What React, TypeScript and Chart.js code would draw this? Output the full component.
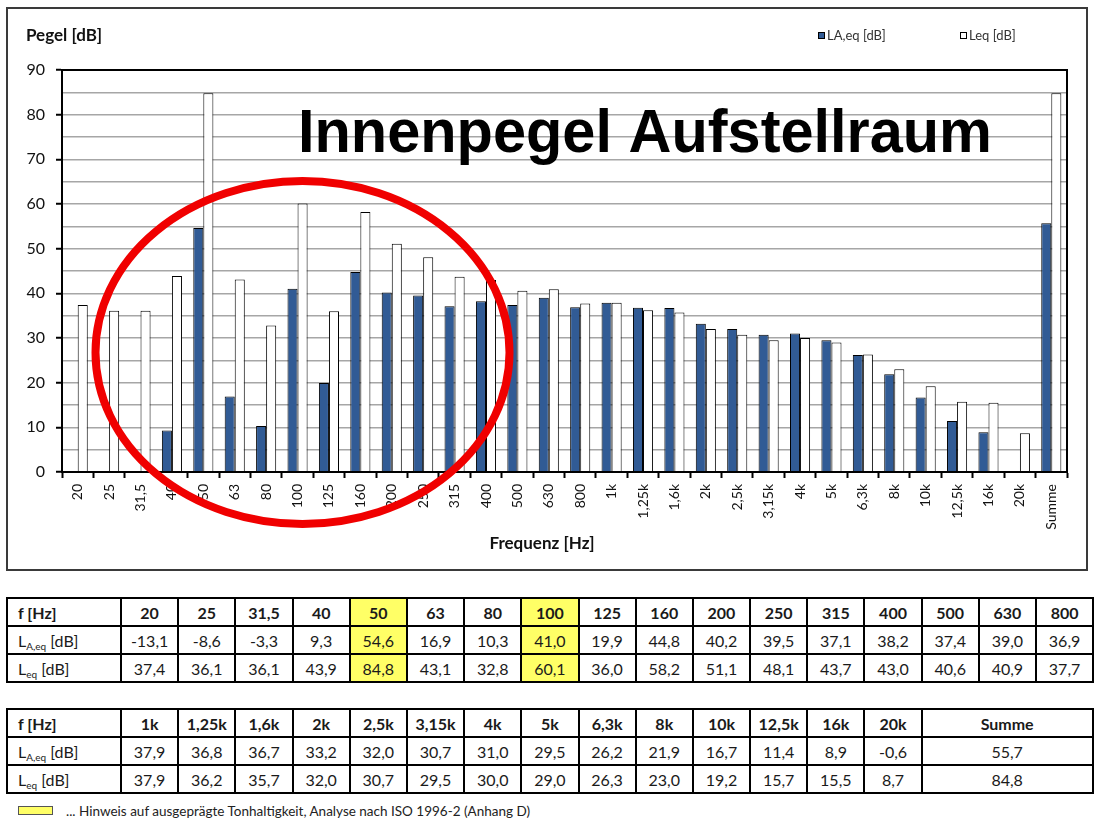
import React, { useEffect, useRef } from "react";
import { Chart, registerables } from "chart.js";
Chart.register(...registerables);

const categories = ["20","25","31,5","40","50","63","80","100","125","160","200","250","315","400","500","630","800","1k","1,25k","1,6k","2k","2,5k","3,15k","4k","5k","6,3k","8k","10k","12,5k","16k","20k","Summe"];
const laeqValues = [-13.1,-8.6,-3.3,9.3,54.6,16.9,10.3,41.0,19.9,44.8,40.2,39.5,37.1,38.2,37.4,39.0,36.9,37.9,36.8,36.7,33.2,32.0,30.7,31.0,29.5,26.2,21.9,16.7,11.4,8.9,-0.6,55.7];
const leqValues = [37.4,36.1,36.1,43.9,84.8,43.1,32.8,60.1,36.0,58.2,51.1,48.1,43.7,43.0,40.6,40.9,37.7,37.9,36.2,35.7,32.0,30.7,29.5,30.0,29.0,26.3,23.0,19.2,15.7,15.5,8.7,84.8];
const tonalBands = ["50", "100"];
const seriesNames = ["LA,eq [dB]", "Leq [dB]"];
const yAxisTitle = "Pegel [dB]";
const xAxisTitle = "Frequenz [Hz]";
const bigTitle = "Innenpegel Aufstellraum";
const footnote = "... Hinweis auf ausgeprägte Tonhaltigkeit, Analyse nach ISO 1996-2 (Anhang D)";

const BLUE = "#315B95";
const YELLOW = "#FFFF66";
const FONT = "Lato, 'Open Sans', sans-serif";

const fmt = (v: number) => v.toFixed(1).replace(".", ",");

const decor = {
  id: "decor",
  beforeDraw(chart: any) {
    const ctx = chart.ctx;
    ctx.save();
    ctx.fillStyle = "#fff";
    ctx.fillRect(0, 0, chart.width, chart.height);
    ctx.strokeStyle = "#3a3a3a";
    ctx.lineWidth = 2;
    ctx.strokeRect(1, 1, chart.width - 2, chart.height - 2);
    ctx.restore();
  },
  afterDraw(chart: any) {
    const ctx = chart.ctx;
    const a = chart.chartArea;
    ctx.save();
    ctx.strokeStyle = "#000";
    ctx.lineWidth = 2;
    ctx.strokeRect(a.left, a.top, a.right - a.left, a.bottom - a.top);
    ctx.fillStyle = "#111";
    ctx.font = `bold 17px ${FONT}`;
    ctx.textAlign = "left";
    ctx.textBaseline = "alphabetic";
    ctx.fillText(yAxisTitle, 20, 34);
    ctx.textAlign = "center";
    ctx.fillText(xAxisTitle, 536, 542);
    ctx.font = `13px ${FONT}`;
    ctx.textAlign = "left";
    ctx.fillStyle = BLUE;
    ctx.fillRect(812.5, 25.5, 6, 6);
    ctx.strokeStyle = "#000";
    ctx.lineWidth = 1;
    ctx.strokeRect(812.5, 25.5, 6, 6);
    ctx.fillStyle = "#333";
    ctx.fillText(seriesNames[0], 821, 33);
    ctx.fillStyle = "#fff";
    ctx.fillRect(954.5, 25.5, 6, 6);
    ctx.strokeRect(954.5, 25.5, 6, 6);
    ctx.fillStyle = "#333";
    ctx.fillText(seriesNames[1], 963, 33);
    ctx.font = `bold 61px 'Liberation Sans', Arial, sans-serif`;
    const w = ctx.measureText(bigTitle).width;
    const target = 694;
    ctx.translate(292, 145);
    ctx.scale(target / w, 1);
    ctx.fillStyle = "#000";
    ctx.textAlign = "left";
    ctx.fillText(bigTitle, 0, 0);
    ctx.setTransform(1, 0, 0, 1, 0, 0);
    ctx.beginPath();
    ctx.ellipse(296.5, 345.5, 207, 171.5, 0, 0, Math.PI * 2);
    ctx.strokeStyle = "#F00000";
    ctx.lineWidth = 8;
    ctx.stroke();
    ctx.restore();
  },
};

function ChartBox() {
  const ref = useRef<HTMLCanvasElement | null>(null);
  useEffect(() => {
    if (!ref.current) return;
    const chart = new Chart(ref.current, {
      type: "bar",
      data: {
        labels: categories,
        datasets: [
          { label: seriesNames[0], data: laeqValues, backgroundColor: BLUE, borderColor: "#000", borderWidth: 1, categoryPercentage: 0.64, barPercentage: 1 },
          { label: seriesNames[1], data: leqValues, backgroundColor: "#fff", borderColor: "#000", borderWidth: 1, categoryPercentage: 0.64, barPercentage: 1 },
        ],
      },
      options: {
        responsive: false,
        animation: false,
        devicePixelRatio: 1,
        layout: { padding: { top: 63, right: 21, left: 0, bottom: 0 } },
        plugins: { legend: { display: false }, tooltip: { enabled: false }, title: { display: false } },
        scales: {
          x: {
            type: "category",
            afterFit: (s: any) => { s.height = 99; },
            ticks: { font: { family: FONT, size: 14 }, color: "#111", minRotation: 90, maxRotation: 90, autoSkip: false, padding: 6 },
            grid: { display: true, drawOnChartArea: false, drawTicks: true, tickLength: 6, tickColor: "#000", tickWidth: 2, offset: true },
            border: { display: true, color: "#000", width: 2 },
          },
          y: {
            min: 0,
            max: 90,
            afterFit: (s: any) => { s.width = 56; },
            ticks: {
              stepSize: 5,
              font: { family: FONT, size: 16 },
              color: "#111",
              padding: 11,
              callback: (v: any) => (Number(v) % 10 === 0 ? String(v) : ""),
            },
            grid: {
              color: (c: any) => (c.tick && (c.tick.value === 0 || c.tick.value === 90) ? "rgba(0,0,0,0)" : "#A6A6A6"),
              lineWidth: 1.5,
              tickLength: 6,
              tickWidth: 2,
              tickColor: (c: any) => (c.tick && c.tick.value % 10 === 0 ? "#000" : "rgba(0,0,0,0)"),
            },
            border: { display: true, color: "#000", width: 2 },
          },
        },
      },
      plugins: [decor],
    } as any);
    return () => chart.destroy();
  }, []);
  return (
    <canvas ref={ref} width={1082} height={564} style={{ position: "absolute", left: 6, top: 7, width: 1082, height: 564 }} />
  );
}

const cellBase: React.CSSProperties = {
  border: "2px solid #000",
  padding: 0,
  textAlign: "center",
  fontFamily: FONT,
  fontSize: 16,
  color: "#1a1a1a",
  height: 25,
  lineHeight: "25px",
  boxSizing: "content-box",
};

const subStyle: React.CSSProperties = { fontSize: 10, verticalAlign: "baseline", position: "relative", top: 3, lineHeight: 0 };

function rowLabel(kind: number) {
  if (kind === 0) return <b>f [Hz]</b>;
  if (kind === 1) return <span>L<span style={subStyle}>A,eq</span> [dB]</span>;
  return <span>L<span style={subStyle}>eq</span> [dB]</span>;
}

function DataTable({ from, to, top, widths }: { from: number; to: number; top: number; widths: number[] }) {
  const idx: number[] = [];
  for (let i = from; i < to; i++) idx.push(i);
  const rows = [0, 1, 2];
  return (
    <table style={{ position: "absolute", left: 6, top, borderCollapse: "collapse", tableLayout: "fixed", width: 1086 }}>
      <colgroup>
        <col style={{ width: 114 }} />
        {idx.map((i, k) => <col key={i} style={{ width: widths[k] }} />)}
      </colgroup>
      <tbody>
        {rows.map((r) => (
          <tr key={r} style={{ height: 28 }}>
            <td style={{ ...cellBase, textAlign: "left", paddingLeft: 10 }}>{rowLabel(r)}</td>
            {idx.map((i) => {
              const hl = tonalBands.includes(categories[i]);
              const txt = r === 0 ? categories[i] : fmt(r === 1 ? laeqValues[i] : leqValues[i]);
              return (
                <td key={i} style={{ ...cellBase, background: hl ? YELLOW : "#fff", fontWeight: r === 0 ? 700 : 400 }}>{txt}</td>
              );
            })}
          </tr>
        ))}
      </tbody>
    </table>
  );
}

export default function App() {
  const w1 = new Array(17).fill(57.2);
  const w2 = [...new Array(14).fill(57.2), 171];
  return (
    <div style={{ position: "absolute", left: 0, top: 0, width: 1094, height: 824, background: "#fff", overflow: "hidden" }}>
      <ChartBox />
      <DataTable from={0} to={17} top={597} widths={w1} />
      <DataTable from={17} to={32} top={708} widths={w2} />
      <div style={{ position: "absolute", left: 18, top: 806, width: 33, height: 7, background: YELLOW, border: "1px solid #555" }} />
      <div style={{ position: "absolute", left: 66, top: 803, fontFamily: FONT, fontSize: 13.5, color: "#222", whiteSpace: "nowrap", lineHeight: "16px" }}>{footnote}</div>
    </div>
  );
}
